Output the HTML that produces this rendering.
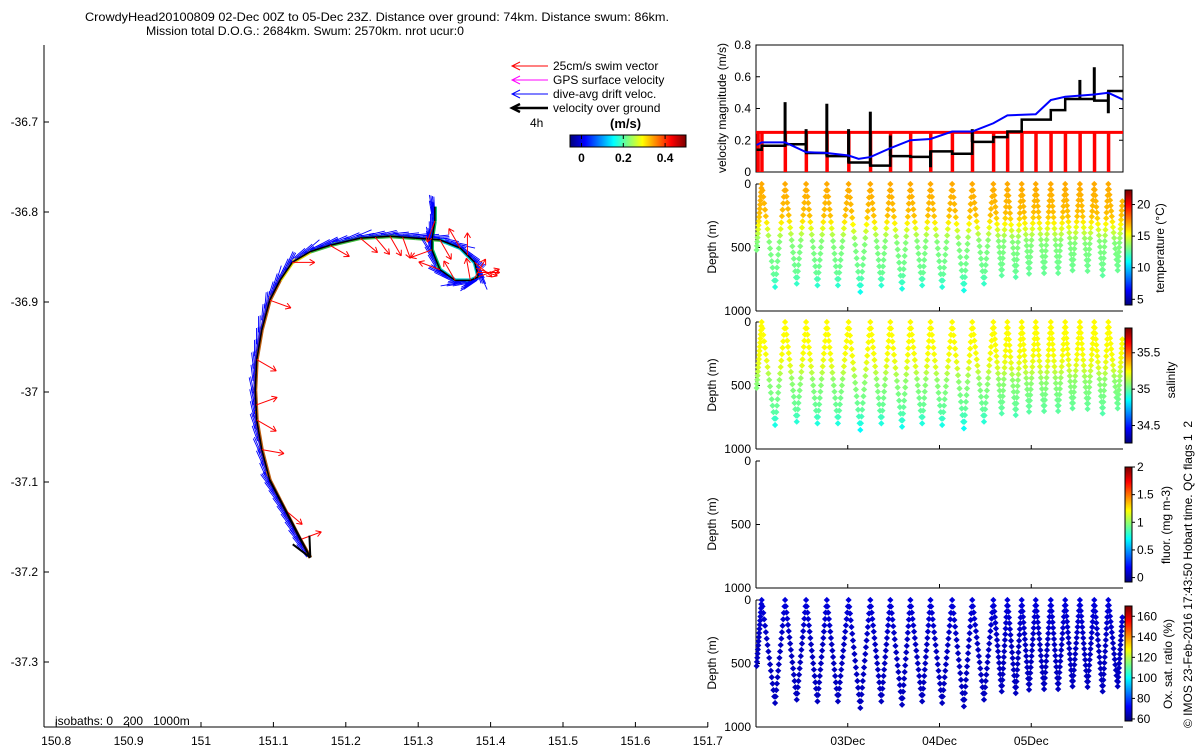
<!DOCTYPE html>
<html><head><meta charset="utf-8"><style>
body{margin:0;background:#fff}
svg{display:block;font-family:"Liberation Sans",sans-serif}
</style></head><body>
<svg id="fig" width="1200" height="750" viewBox="0 0 1200 750" xmlns="http://www.w3.org/2000/svg">
<g font-size="12" text-anchor="middle">
<text x="377" y="21" textLength="584" lengthAdjust="spacingAndGlyphs">CrowdyHead20100809 02-Dec 00Z to 05-Dec 23Z. Distance over ground: 74km. Distance swum: 86km.</text>
<text x="305" y="35" textLength="318" lengthAdjust="spacingAndGlyphs">Mission total D.O.G.: 2684km. Swum: 2570km. nrot ucur:0</text>
</g>
<g id="map"></g>
<g id="legend"></g>
<g id="vel"></g>
<g id="temp"></g>
<g id="sal"></g>
<g id="flu"></g>
<g id="oxy"></g>
<text x="1192" y="728" font-size="12" transform="rotate(-90 1192 728)">© IMOS 23-Feb-2016 17:43:50 Hobart time. QC flags 1&#160;&#160;2</text>
</svg>
<script>
// ---- data ----
const trackLon=[151.323,151.323,151.319,151.319,151.330,151.351,151.372,151.383,151.378,151.358,151.330,151.296,151.261,151.220,151.178,151.151,151.126,151.109,151.095,151.084,151.077,151.075,151.077,151.084,151.095,151.109,151.123,151.137,151.151];
const trackLat=[-36.794,-36.810,-36.831,-36.842,-36.864,-36.876,-36.876,-36.872,-36.856,-36.840,-36.831,-36.829,-36.827,-36.829,-36.837,-36.844,-36.856,-36.876,-36.898,-36.931,-36.964,-36.998,-37.031,-37.064,-37.098,-37.120,-37.142,-37.164,-37.184];
const swimIdx=[1,3,4,5,6,6.5,7,7.3,7.6,8,8.5,9,10,11.5,12,12.5,13,14,16,18,20,21.5,22,23,25.5,27];
const swimAng=[250,200,160,120,100,60,20,0,-20,-40,90,120,-60,-70,-60,-50,-40,-30,0,-20,-30,20,-30,-10,-40,20];
const lonTicks=[150.8,150.9,151,151.1,151.2,151.3,151.4,151.5,151.6,151.7];
const latTicks=[-36.7,-36.8,-36.9,-37,-37.1,-37.2,-37.3];
const turnDay=[0.007,0.062,0.208,0.317,0.444,0.546,0.670,0.772,0.893,1.009,1.137,1.246,1.366,1.464,1.592,1.683,1.811,1.902,2.029,2.138,2.266,2.357,2.485,2.587,2.678,2.740,2.831,2.896,2.976,3.049,3.140,3.213,3.293,3.370,3.450,3.530,3.614,3.687,3.778,3.840,3.942,3.996];
const turnDepth=[520,0,811,0,785,0,798,0,798,0,850,0,798,0,825,0,798,0,811,0,838,0,785,0,720,0,733,0,707,0,702,0,702,0,680,0,685,0,720,0,680,100];
const surfDay=[0.062,0.317,0.546,0.772,1.009,1.246,1.464,1.683,1.902,2.138,2.357,2.587,2.740,2.896,3.049,3.213,3.370,3.530,3.687,3.840];
const vogStart=[0.007,0.062,0.317,0.546,0.772,1.009,1.246,1.464,1.683,1.902,2.138,2.357,2.587,2.740,2.896,3.049,3.213,3.370,3.530,3.687,3.840];
const vogVal=[0.14,0.165,0.175,0.12,0.10,0.06,0.04,0.10,0.095,0.13,0.115,0.19,0.22,0.255,0.33,0.33,0.39,0.46,0.46,0.45,0.51];
const spikeDay=[0.317,0.546,0.772,1.009,1.246,1.464,1.902,2.357,3.530,3.687,3.840];
const spikeVal=[0.44,0.27,0.43,0.27,0.38,0.23,0.03,0.27,0.58,0.66,0.37];
const driftDay=[0.007,0.062,0.317,0.546,0.772,1.009,1.118,1.246,1.464,1.683,1.902,2.138,2.357,2.587,2.740,3.049,3.213,3.370,3.687,3.840,3.996];
const driftVal=[0.17,0.187,0.187,0.125,0.12,0.104,0.083,0.094,0.15,0.20,0.208,0.255,0.255,0.307,0.357,0.364,0.453,0.474,0.488,0.499,0.457];
const swimSpeed=0.25;
const profDepth=[0,250,350,450,700,850];
const tempProf=[17.0,16.6,15.0,13.3,12.8,11.2];
const salProf=[35.25,35.24,35.2,35.08,35.0,34.85];
const oxProf=[68,66,65,65,65,65];
const dayLabels=['03Dec','04Dec','05Dec'];
const velTicks=[0,0.2,0.4,0.6,0.8];
const depthTicks=[0,500,1000];
const tempCb=[5,10,15,20], salCb=[34.5,35,35.5], fluCb=[0,0.5,1,1.5,2], oxCb=[60,80,100,120,140,160];

const NS='http://www.w3.org/2000/svg';
function mk(p,t,a,txt){const e=document.createElementNS(NS,t);for(const k in a)e.setAttribute(k,a[k]);if(txt!==undefined)e.textContent=txt;p.appendChild(e);return e;}
function jet(t){t=Math.max(0,Math.min(1,t));const c=v=>Math.round(255*Math.max(0,Math.min(1,v)));
 return `rgb(${c(1.5-Math.abs(4*t-3))},${c(1.5-Math.abs(4*t-2))},${c(1.5-Math.abs(4*t-1))})`;}
function interp(xs,ys,x){if(x<=xs[0])return ys[0];for(let i=1;i<xs.length;i++)if(x<=xs[i]){const f=(x-xs[i-1])/(xs[i]-xs[i-1]);return ys[i-1]+f*(ys[i]-ys[i-1]);}return ys[ys.length-1];}

// ---- map ----
const map=document.getElementById('map');
const mx=lon=>56.2+(lon-150.8)*724, my=lat=>122-(lat+36.7)*900;
let e;
e=mk(map,'line',{x1:44,y1:45,x2:44,y2:727,stroke:'#000'});
e=mk(map,'line',{x1:44,y1:727,x2:708,y2:727,stroke:'#000'});
lonTicks.forEach(v=>{const x=mx(v);mk(map,'line',{x1:x,y1:727,x2:x,y2:722,stroke:'#000'});
 e=mk(map,'text',{x:x,y:745,'font-size':12,'text-anchor':'middle'},String(v));});
latTicks.forEach(v=>{const y=my(v);mk(map,'line',{x1:44,y1:y,x2:49,y2:y,stroke:'#000'});
 e=mk(map,'text',{x:38,y:y+4,'font-size':12,'text-anchor':'end'},String(v));});
e=mk(map,'text',{x:55,y:725,'font-size':12},'isobaths: 0\u00a0\u00a0\u00a0200\u00a0\u00a0\u00a01000m');
const P=trackLon.map((l,i)=>[mx(l),my(trackLat[i])]);
function ptAt(s){const i=Math.min(Math.floor(s),P.length-2),f=s-i;return [P[i][0]+f*(P[i+1][0]-P[i][0]),P[i][1]+f*(P[i+1][1]-P[i][1]),P[i+1][0]-P[i][0],P[i+1][1]-P[i][1]];}
for(let i=0;i<P.length-1;i++){const c=i<4?'#00c060':i<10?'#00c8d0':i<15?'#40c040':i<17?'#e0d000':'#c06010';
 e=mk(map,'line',{x1:P[i][0],y1:P[i][1],x2:P[i+1][0],y2:P[i+1][1],stroke:c,'stroke-width':4});}
for(let s=0;s<P.length-1.05;s+=0.1){const [x,y,dx,dy]=ptAt(s);const L=Math.hypot(dx,dy)||1;const ux=dx/L,uy=dy/L;
 const k=Math.round(s*10)%4;const len=10+k*2;const off=1+k*1.5;
 e=mk(map,'line',{x1:x-uy*off*0.5,y1:y+ux*off*0.5,x2:x-ux*len-uy*off,y2:y-uy*len+ux*off,stroke:'#0000ff','stroke-width':0.9});}
e=mk(map,'polyline',{points:P.map(p=>p.join(',')).join(' '),fill:'none',stroke:'#000','stroke-width':1.5});
swimIdx.forEach((s,i)=>{const [x,y]=ptAt(s);const a=swimAng[i]*Math.PI/180;const len=swimSpeed*90;
 const x2=x+len*Math.cos(a),y2=y-len*Math.sin(a);
 const g=mk(map,'g',{stroke:'#ff0000','stroke-width':1,fill:'none'});
 mk(g,'line',{x1:x,y1:y,x2:x2,y2:y2});
 const b=Math.atan2(y2-y,x2-x);[2.6,-2.6].forEach(d=>mk(g,'line',{x1:x2,y1:y2,x2:x2+6*Math.cos(b+d),y2:y2+6*Math.sin(b+d)}));});
{const a=P[P.length-5],b=P[P.length-1];const g=mk(map,'g',{stroke:'#000','stroke-width':2,fill:'none'});
 mk(g,'line',{x1:a[0],y1:a[1],x2:b[0],y2:b[1]});const t=Math.atan2(b[1]-a[1],b[0]-a[0]);
 [2.7,-2.7].forEach(d=>mk(g,'line',{x1:b[0],y1:b[1],x2:b[0]+22*Math.cos(t+d),y2:b[1]+22*Math.sin(t+d)}));}

// ---- legend ----
const lg=document.getElementById('legend');
[['#ff0000','25cm/s swim vector',1],['#ff00ff','GPS surface velocity',1],['#0000ff','dive-avg drift veloc.',1],['#000','velocity over ground',2.5]].forEach((r,i)=>{
 const y=66+i*14;const g=mk(lg,'g',{});
 mk(g,'line',{x1:512,y1:y,x2:548,y2:y,stroke:r[0],'stroke-width':r[2]});
 mk(g,'polyline',{points:`${520},${y-4} ${512},${y} ${520},${y+4}`,fill:'none',stroke:r[0],'stroke-width':r[2]});
 mk(g,'text',{x:553,y:y+4,'font-size':12},r[1]);});
mk(lg,'text',{x:530,y:127,'font-size':12},'4h');
mk(lg,'text',{x:610,y:128,'font-size':13,'font-weight':'bold'},'(m/s)');
for(let i=0;i<116;i++)mk(lg,'rect',{x:570+i,y:135,width:1.2,height:12,fill:jet(i/115)});
mk(lg,'rect',{x:570,y:135,width:116,height:12,fill:'none',stroke:'#000'});
[0,0.2,0.4].forEach(v=>{const x=570+(v+0.055)/0.555*116;mk(lg,'line',{x1:x,y1:135,x2:x,y2:139,stroke:'#000'});mk(lg,'line',{x1:x,y1:147,x2:x,y2:143,stroke:'#000'});
 e=mk(lg,'text',{x:x,y:162,'font-size':12,'font-weight':'bold','text-anchor':'middle'},String(v));});

// ---- right panels ----
const X0=756,X1=1123;const dx=d=>X0+d/4*(X1-X0);
const vel=document.getElementById('vel');const vy=v=>172-v/0.8*127;
mk(vel,'rect',{x:X0,y:45,width:X1-X0,height:127,fill:'none',stroke:'#000'});
velTicks.forEach(v=>{mk(vel,'line',{x1:X0,y1:vy(v),x2:X0+4,y2:vy(v),stroke:'#000'});mk(vel,'line',{x1:X1,y1:vy(v),x2:X1-4,y2:vy(v),stroke:'#000'});
 e=mk(vel,'text',{x:751,y:vy(v)+4,'font-size':12,'text-anchor':'end'},String(v));});
e=mk(vel,'text',{x:726,y:108,'font-size':12,'text-anchor':'middle',transform:'rotate(-90 726 108)'},'velocity magnitude (m/s)');
e=mk(vel,'line',{x1:X0,y1:vy(swimSpeed),x2:X1,y2:vy(swimSpeed),stroke:'#ff0000','stroke-width':3});
[0.02].concat(surfDay).forEach(d=>{e=mk(vel,'rect',{x:dx(d)-1.5,y:vy(swimSpeed),width:3.5,height:vy(0)-vy(swimSpeed),fill:'#ff0000'});});
{let pts=[];vogStart.forEach((d,i)=>{const end=i<vogStart.length-1?vogStart[i+1]:3.996;pts.push(dx(d)+','+vy(vogVal[i]),dx(end)+','+vy(vogVal[i]));});
 e=mk(vel,'polyline',{points:pts.join(' '),fill:'none',stroke:'#000','stroke-width':2.5});}
spikeDay.forEach((d,i)=>{const base=interp(vogStart,vogVal,d-0.001);e=mk(vel,'line',{x1:dx(d),y1:vy(base),x2:dx(d),y2:vy(spikeVal[i]),stroke:'#000','stroke-width':3});});
e=mk(vel,'polyline',{points:driftDay.map((d,i)=>dx(d)+','+vy(driftVal[i])).join(' '),fill:'none',stroke:'#0000ff','stroke-width':2});

function depthPanel(id,top,prof,lo,hi,cbTicks,label,draw){
 const g=document.getElementById(id);const y=d=>top+d/1000*127;
 mk(g,'line',{x1:X0,y1:top,x2:X0,y2:top+127,stroke:'#000'});mk(g,'line',{x1:X0,y1:top+127,x2:X1,y2:top+127,stroke:'#000'});
 depthTicks.forEach(v=>{mk(g,'line',{x1:X0,y1:y(v),x2:X0+4,y2:y(v),stroke:'#000'});
  e=mk(g,'text',{x:751,y:y(v)+4,'font-size':12,'text-anchor':'end'},String(v));});
 [1,2,3].forEach(d=>mk(g,'line',{x1:dx(d),y1:top+127,x2:dx(d),y2:top+123,stroke:'#000'}));
 e=mk(g,'text',{x:716,y:top+63,'font-size':12,'text-anchor':'middle',transform:`rotate(-90 716 ${top+63})`},'Depth (m)');
 if(draw){for(let k=0;k<turnDay.length-1;k++){const n=16;for(let j=0;j<n;j++){const f=j/n;const d=turnDepth[k]+f*(turnDepth[k+1]-turnDepth[k]);const t=turnDay[k]+f*(turnDay[k+1]-turnDay[k]);
  const v=interp(profDepth,prof,d);const px=dx(t),py=y(d);
  e=mk(g,'rect',{x:px-2.2,y:py-2.2,width:4.4,height:4.4,fill:jet((v-lo)/(hi-lo)),transform:`rotate(45 ${px} ${py})`});}}}
 const cbT=top+6,cbB=top+121;
 for(let i=0;i<115;i++)mk(g,'rect',{x:1125,y:cbB-i-1,width:7,height:1.2,fill:jet(i/114)});
 e=mk(g,'rect',{x:1125,y:cbT,width:7,height:cbB-cbT,fill:'none',stroke:'#000'});
 cbTicks.forEach(v=>{const yy=cbB-(v-lo)/(hi-lo)*(cbB-cbT);mk(g,'line',{x1:1132,y1:yy,x2:1135,y2:yy,stroke:'#000'});
  e=mk(g,'text',{x:1137,y:yy+4,'font-size':12},String(v));});
 const lx=label[1];e=mk(g,'text',{x:lx,y:top+label[2],'font-size':12,'text-anchor':'middle',transform:`rotate(-90 ${lx} ${top+label[2]})`},label[0]);
}
depthPanel('temp',184,tempProf,4.1,22.3,tempCb,['temperature (°C)',1164,64],true);
depthPanel('sal',322,salProf,34.26,35.84,salCb,['salinity',1175,58],true);
depthPanel('flu',461,null,-0.08,2.0,fluCb,['fluor. (mg m-3)',1170,64],false);
depthPanel('oxy',600,oxProf,58,170,oxCb,['Ox. sat. ratio (%)',1172,64],true);
dayLabels.forEach((s,i)=>{e=mk(document.getElementById('oxy'),'text',{x:dx(i+1),y:745,'font-size':12,'text-anchor':'middle'},s);});
</script>
</body></html>
